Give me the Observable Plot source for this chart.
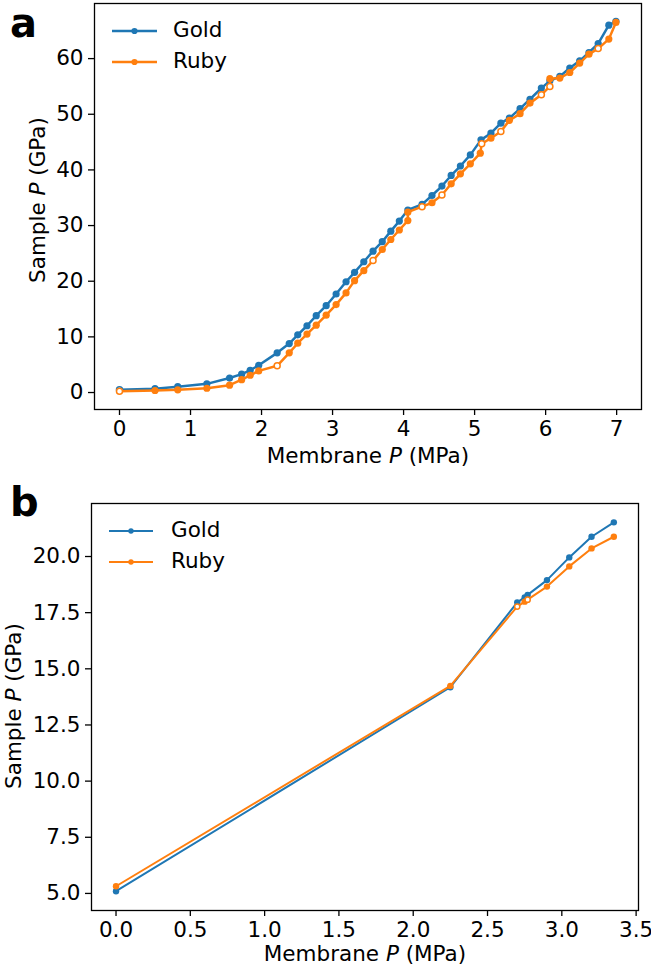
<!DOCTYPE html>
<html><head><meta charset="utf-8">
<script src="https://cdn.jsdelivr.net/npm/d3@7"></script>
<script src="https://cdn.jsdelivr.net/npm/@observablehq/plot@0.6"></script>
<style>
body{margin:0;background:#fff;}
#fig{position:relative;width:651px;height:973px;font-family:"DejaVu Sans",sans-serif;}
#fig > svg{position:absolute;left:0;}
</style></head><body><div id="fig"></div>
<script>
// ---------- Data: panel a ----------
const membraneA_gold = [0, 0.5, 0.82, 1.23, 1.55, 1.72, 1.84, 1.96, 2.22, 2.39, 2.51, 2.64, 2.77, 2.91, 3.05, 3.19, 3.31, 3.44, 3.57, 3.70, 3.82, 3.94, 4.06, 4.26, 4.40, 4.54, 4.67, 4.80, 4.94, 5.09, 5.23, 5.37, 5.49, 5.64, 5.78, 5.94, 6.06, 6.20, 6.34, 6.48, 6.61, 6.74, 6.89, 6.99];
const sampleA_gold = [0.5, 0.7, 1.05, 1.56, 2.6, 3.3, 4.0, 4.9, 7.13, 8.8, 10.36, 12.0, 13.8, 15.6, 17.7, 19.9, 21.6, 23.5, 25.4, 27.1, 29.0, 30.8, 32.8, 33.8, 35.4, 37.1, 39.0, 40.7, 42.7, 45.4, 46.6, 48.4, 49.3, 51.0, 52.7, 54.7, 56.0, 56.8, 58.3, 59.6, 61.1, 62.7, 66.0, 66.7];
const openA_gold = [0];
const membraneA_ruby = [0, 0.5, 0.82, 1.23, 1.55, 1.72, 1.84, 1.96, 2.22, 2.39, 2.51, 2.64, 2.77, 2.91, 3.05, 3.19, 3.31, 3.44, 3.57, 3.70, 3.82, 3.94, 4.06, 4.06, 4.26, 4.40, 4.54, 4.67, 4.80, 4.94, 5.08, 5.10, 5.23, 5.37, 5.49, 5.64, 5.78, 5.94, 6.06, 6.06, 6.20, 6.34, 6.48, 6.61, 6.74, 6.89, 6.99];
const sampleA_ruby = [0.25, 0.36, 0.48, 0.77, 1.32, 2.3, 3.1, 3.89, 4.8, 7.13, 8.86, 10.5, 12.1, 13.9, 15.8, 17.9, 20.1, 21.9, 23.7, 25.7, 27.5, 29.2, 30.9, 32.4, 33.4, 34.1, 35.5, 37.5, 39.3, 41.1, 43.0, 44.7, 45.7, 46.9, 48.9, 50.1, 52.0, 53.5, 55.0, 56.4, 56.5, 57.5, 59.2, 60.8, 61.8, 63.5, 66.5];
const openA_ruby = [0, 8, 18, 24, 26, 31, 33, 37, 38, 44];
const xTicksA = [0, 1, 2, 3, 4, 5, 6, 7];
const yTicksA = [0, 10, 20, 30, 40, 50, 60];

// ---------- Data: panel b ----------
const membraneB = [0, 2.25, 2.70, 2.75, 2.77, 2.90, 3.05, 3.20, 3.35];
const sampleB_gold = [5.10, 14.18, 17.96, 18.18, 18.29, 18.95, 19.96, 20.88, 21.52];
const sampleB_ruby = [5.32, 14.24, 17.77, 17.99, 18.08, 18.66, 19.56, 20.36, 20.88];
const openB_gold = [];
const openB_ruby = [2, 4];
const xTicksB = [0, 0.5, 1.0, 1.5, 2.0, 2.5, 3.0, 3.5];
const yTicksB = [5.0, 7.5, 10.0, 12.5, 15.0, 17.5, 20.0];

const seriesNames = ["Gold", "Ruby"];
const colors = {Gold: "#1f77b4", Ruby: "#ff7f0e"};
const FS = 21.5;

function rows(xs, ys, openIdx) {
  return xs.map((x, i) => ({x, y: ys[i], open: openIdx.includes(i)}));
}

function panel(cfg) {
  const marks = [Plot.frame({stroke: "#000", strokeWidth: 1.3})];
  marks.push(
    Plot.axisX({ticks: cfg.xTicks, tickFormat: cfg.xFmt, tickSize: 6, tickPadding: 5, label: null, strokeWidth: 1.3, fontSize: FS}),
    Plot.axisY({ticks: cfg.yTicks, tickFormat: cfg.yFmt, tickSize: 6, tickPadding: 5, label: null, strokeWidth: 1.3, fontSize: FS})
  );
  for (const s of cfg.series) {
    const c = colors[s.name];
    marks.push(Plot.line(s.data, {x: "x", y: "y", stroke: c, strokeWidth: cfg.lw, curve: "linear"}));
    marks.push(Plot.dot(s.data.filter(d => !d.open), {x: "x", y: "y", r: cfg.r, fill: c}));
    marks.push(Plot.dot(s.data.filter(d => d.open), {x: "x", y: "y", r: cfg.r - 0.6, fill: "#fff", stroke: c, strokeWidth: 1.5}));
  }
  const svg = Plot.plot({
    width: 651, height: cfg.height,
    marginLeft: cfg.ml, marginRight: cfg.mr, marginTop: cfg.mt, marginBottom: cfg.mb,
    x: {domain: cfg.xDomain},
    y: {domain: cfg.yDomain},
    style: {fontFamily: "DejaVu Sans", fontSize: FS + "px", color: "#000", background: "transparent", overflow: "visible"},
    marks
  });
  const g = d3.select(svg);
  // x label
  const xl = g.append("text").attr("x", cfg.xLabelPos[0]).attr("y", cfg.xLabelPos[1])
    .attr("text-anchor", "middle").attr("dominant-baseline", "middle")
    .attr("font-size", FS).attr("fill", "#000").attr("font-family", "DejaVu Sans");
  xl.append("tspan").text("Membrane ");
  xl.append("tspan").attr("font-style", "italic").text("P");
  xl.append("tspan").text(" (MPa)");
  // y label
  const yl = g.append("text")
    .attr("transform", `translate(${cfg.yLabelPos[0]},${cfg.yLabelPos[1]}) rotate(-90)`)
    .attr("text-anchor", "middle").attr("dominant-baseline", "middle")
    .attr("font-size", FS).attr("fill", "#000").attr("font-family", "DejaVu Sans");
  yl.append("tspan").text("Sample ");
  yl.append("tspan").attr("font-style", "italic").text("P");
  yl.append("tspan").text(" (GPa)");
  // legend
  const L = cfg.legend;
  seriesNames.forEach((name, i) => {
    const y = L.y0 + i * L.dy;
    g.append("line").attr("x1", L.x0).attr("x2", L.x1).attr("y1", y).attr("y2", y)
      .attr("stroke", colors[name]).attr("stroke-width", cfg.lw);
    g.append("circle").attr("cx", (L.x0 + L.x1) / 2).attr("cy", y).attr("r", cfg.r - 0.5).attr("fill", colors[name]);
    g.append("text").attr("x", L.tx).attr("y", y).attr("dominant-baseline", "middle")
      .attr("text-anchor", "start")
      .attr("font-size", FS).attr("font-family", "DejaVu Sans").attr("fill", "#000").text(name);
  });
  // panel letter
  g.append("text").attr("x", cfg.letterPos[0]).attr("y", cfg.letterPos[1])
    .attr("text-anchor", "start")
    .attr("font-size", 40).attr("font-weight", "bold").attr("font-family", "DejaVu Sans").attr("fill", "#000").text(cfg.letter);
  return svg;
}

const fig = document.getElementById("fig");

const svgA = panel({
  height: 470, ml: 94, mr: 10, mt: 3, mb: 61,
  xDomain: [-0.352, 7.35], yDomain: [-3.05, 69.9],
  xTicks: xTicksA, yTicks: yTicksA, xFmt: d => String(d), yFmt: d => String(d),
  lw: 2.5, r: 3.6,
  series: [
    {name: "Gold", data: rows(membraneA_gold, sampleA_gold, openA_gold)},
    {name: "Ruby", data: rows(membraneA_ruby, sampleA_ruby, openA_ruby)}
  ],
  xLabelPos: [368, 457], yLabelPos: [39, 200],
  legend: {x0: 112, x1: 157, y0: 31, dy: 31, tx: 173},
  letter: "a", letterPos: [10, 37]
});
svgA.style.top = "0px";
fig.appendChild(svgA);

const svgB = panel({
  height: 493, ml: 91, mr: 13, mt: 23, mb: 63,
  xDomain: [-0.165, 3.516], yDomain: [4.24, 22.36],
  xTicks: xTicksB, yTicks: yTicksB, xFmt: d => d.toFixed(1), yFmt: d => d.toFixed(1),
  lw: 2, r: 3.2,
  series: [
    {name: "Gold", data: rows(membraneB, sampleB_gold, openB_gold)},
    {name: "Ruby", data: rows(membraneB, sampleB_ruby, openB_ruby)}
  ],
  xLabelPos: [365, 475], yLabelPos: [15, 226],
  legend: {x0: 109, x1: 153, y0: 51, dy: 31, tx: 171},
  letter: "b", letterPos: [10, 36]
});
svgB.style.top = "480px";
fig.appendChild(svgB);
</script>
</body></html>
